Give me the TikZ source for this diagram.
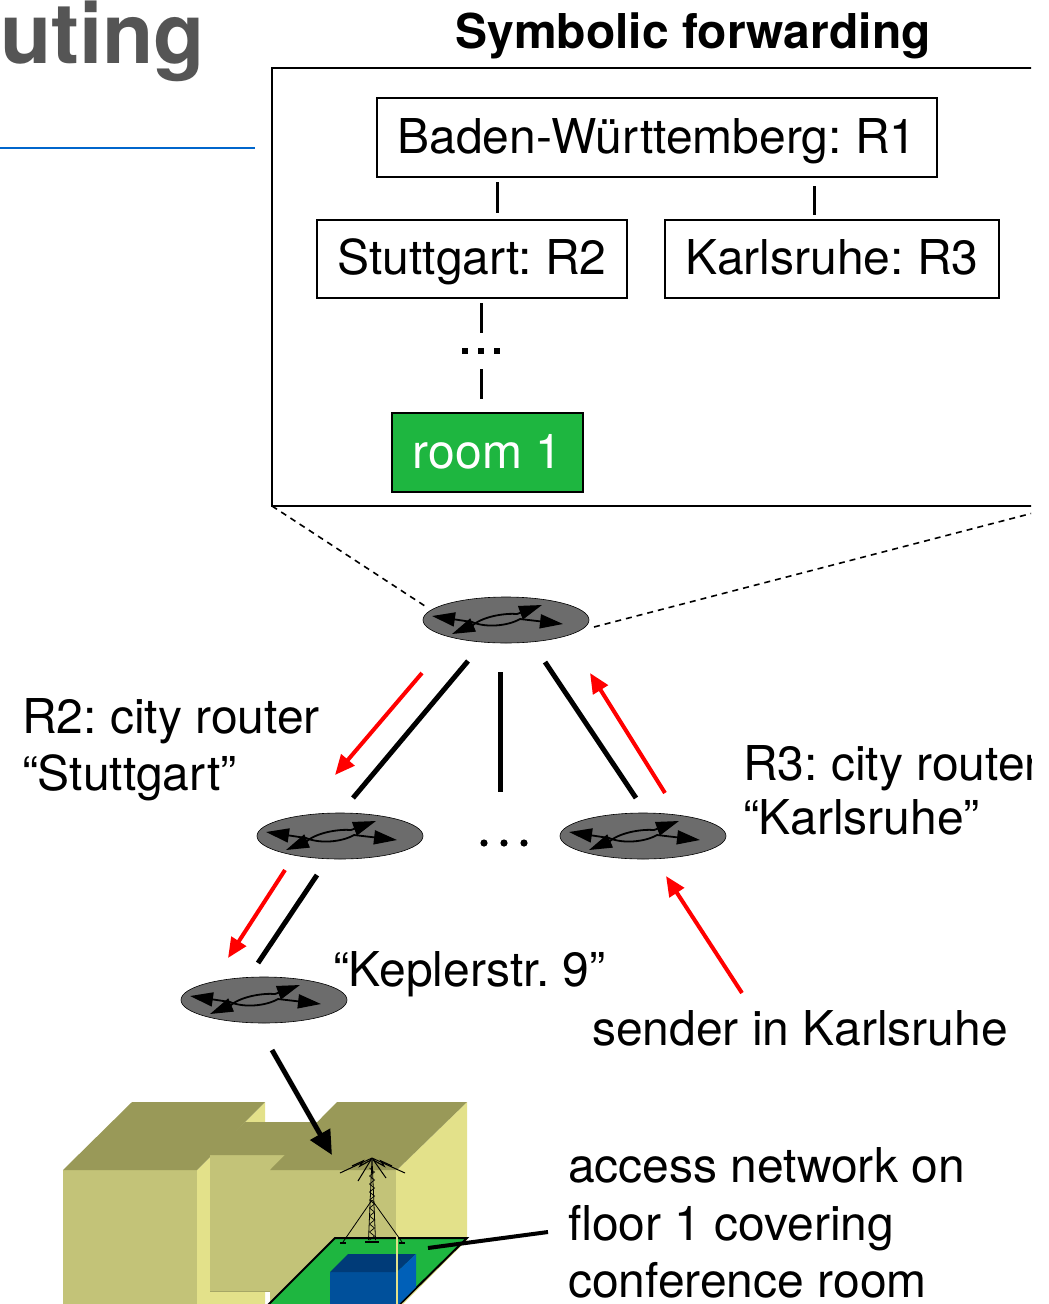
\documentclass[tikz,border=0pt]{standalone}
\usepackage{fontspec}
\setmainfont{TeX Gyre Heros}
\usetikzlibrary{arrows.meta,calc}
\frenchspacing

\definecolor{titlegray}{RGB}{85,85,85}
\definecolor{ruleblue}{RGB}{0,102,204}
\definecolor{roomgreen}{RGB}{30,182,64}
\definecolor{routergray}{RGB}{108,108,108}
\definecolor{roofolive}{RGB}{153,153,88}
\definecolor{wallfront}{RGB}{195,195,120}
\definecolor{wallside}{RGB}{227,225,138}
\definecolor{boxfront}{RGB}{0,80,155}
\definecolor{boxtop}{RGB}{0,59,120}
\definecolor{boxside}{RGB}{0,96,184}

\newcommand\diafont{\fontsize{48}{57.5}\selectfont}

\tikzset{
  router/.pic={
    \filldraw[fill=routergray, draw=black, line width=0.6pt] (0,0) ellipse [x radius=83pt, y radius=23pt];
    \draw[line width=1.8pt, {Triangle[length=23pt,width=14pt]}-{Triangle[length=23pt,width=14pt]}]
      (-74,-4) -- (-34,2) .. controls (-20,8) and (2,6) .. (14,-1) -- (57,4);
    \draw[line width=1.8pt, {Triangle[length=23pt,width=14pt]}-{Triangle[length=23pt,width=14pt]}]
      (-54,14) -- (-33,5) .. controls (-22,-4) and (0,-7) .. (11,-6) -- (36,-15);
  }
}

\begin{document}
\begin{tikzpicture}[x=1pt,y=-1pt,
  every node/.style={inner sep=0pt, outer sep=0pt},
  lbl/.style={font=\diafont, anchor=base west},
  entry/.style={draw, line width=1.5pt, font=\diafont, text height=34.5pt, text depth=3pt},
  tree/.style={line width=3pt},
  link/.style={line width=5pt},
  redarrow/.style={line width=4pt, red, -{Triangle[length=20pt,width=17pt]}},
  blackarrow/.style={line width=5pt, black, -{Triangle[length=24pt,width=22pt]}},
  zoomline/.style={line width=1.6pt, dashed, dash pattern=on 6pt off 5pt},
]
\useasboundingbox (0,0) rectangle (1049,1304);
\clip (0,0) rectangle (1031,1304);

% heading and rule
\node[anchor=base west, font=\fontsize{84}{94}\selectfont\bfseries, text=titlegray] (title) at (0,63) {uting};
\draw[ruleblue, line width=2.5pt] (0,148) -- (255,148);

% symbolic forwarding table
\node[anchor=base, font=\fontsize{48}{57.5}\selectfont\bfseries] (symb) at (693,48) {Symbolic forwarding};
\node[draw, line width=2pt, minimum width=788pt, minimum height=438pt, anchor=north west] (frame) at (272,68) {};

\node[entry, minimum width=560pt, minimum height=79pt] (bw) at (657,137.5) {Baden-Württemberg: R1};
\node[entry, minimum width=310pt, minimum height=78pt] (stg) at (472,259) {Stuttgart: R2};
\node[entry, minimum width=334pt, minimum height=78pt] (kar) at (832,259) {Karlsruhe: R3};
\node[entry, fill=roomgreen, text=white, minimum width=191pt, minimum height=79pt] (room) at (487.5,452.5) {room 1};

\draw[tree] ($(bw.south west)+(120,5)$) -- ($(stg.north west)+(180,-7)$);
\draw[tree] ($(bw.south east)+(-123,9)$) -- ($(kar.north west)+(149,-5)$);
\coordinate (sdots) at (481,351);
\draw[tree] ($(stg.south west)+(164,5)$) -- ($(sdots)+(0,-18)$);
\draw[tree] ($(sdots)+(0,18)$) -- ($(room.north west)+(89,-14)$);
\foreach \dx in {-16,0,16} \fill ($(sdots)+(\dx,0)$) ++(-2.8,-2.8) rectangle ++(5.6,5.6);

% routers
\coordinate (r0) at (506,620);
\coordinate (r2) at (340,836);
\coordinate (r3) at (643,836);
\coordinate (r4) at (264,1000);

\draw[zoomline] (frame.south west) -- ($(r0)+(-78,-12)$);
\draw[zoomline] ($(r0)+(88,7)$) -- (frame.south east);

\pic at (r0) {router};
\pic at (r2) {router};
\pic at (r3) {router};
\pic at (r4) {router};

\coordinate (mdots) at (504,843);
\foreach \dx in {-20,0,20} \fill ($(mdots)+(\dx,0)$) circle [radius=3.6pt];

% links
\draw[link] ($(r0)+(-38,41)$) -- ($(r2)+(13,-38)$);
\draw[link] ($(r0)+(-6,52)$) -- ($(mdots)+(-4,-51)$);
\draw[link] ($(r0)+(39,42)$) -- ($(r3)+(-7,-38)$);
\draw[link] ($(r2)+(-23,39)$) -- ($(r4)+(-6,-37)$);

% labels
\node[lbl] (r2a) at (22,733) {R2: city router};
\node[lbl] (r2b) at (22,790) {“Stuttgart”};
\node[lbl] (r3a) at (743,780) {R3: city router};
\node[lbl] (r3b) at (743,834) {“Karlsruhe”};
\node[lbl] (kep) at (333,986) {“Keplerstr. 9”};
\node[lbl] (sender) at (592,1045) {sender in Karlsruhe};
\node[lbl] (acc1) at (568,1182) {access network on};
\node[lbl] (acc2) at (568,1240) {floor 1 covering};
\node[lbl] (acc3) at (568,1297) {conference room};

% message path
\draw[redarrow] ($(r0)+(-84,53)$) -- ($(r2)+(-5,-61)$);
\draw[redarrow] ($(r3)+(22,-43)$) -- ($(r0)+(84,53)$);
\draw[redarrow] ($(r2)+(-55,34)$) -- ($(r4)+(-36,-42)$);
\draw[redarrow] ($(sender.base west)+(150,-52)$) -- ($(r3)+(23,40)$);

% building: left wing
\fill[wallfront] (63,1170) rectangle (197,1310);
\fill[wallside] (197,1170) -- (265,1102) -- (265,1310) -- (197,1310) -- cycle;
\fill[roofolive] (63,1170) -- (132,1102) -- (265,1102) -- (197,1170) -- cycle;
% middle part
\fill[wallfront] (210,1155) rectangle (290,1291);
\draw[wallfront!85!black, line width=0.8pt] (210,1291) -- (290,1291);
\fill[roofolive] (210,1155) -- (245,1122) -- (330,1122) -- (290,1155) -- cycle;
% right wing
\fill[wallfront] (270,1170) rectangle (397,1310);
\fill[wallside] (397,1170) -- (467,1102) -- (467,1240) -- (397,1310) -- cycle;
\fill[roofolive] (270,1170) -- (337,1102) -- (467,1102) -- (397,1170) -- cycle;

% floor 1 with conference room
\coordinate (floorpt) at (428,1248);
\filldraw[fill=roomgreen, draw=black, line width=2pt, line join=miter] (335,1238) -- (467,1238) -- (398,1306) -- (267,1306) -- cycle;
\fill[boxfront] (330,1272) rectangle (397,1310);
\fill[boxtop] (330,1272) -- (348,1254) -- (416,1254) -- (397,1272) -- cycle;
\fill[boxside] (397,1272) -- (416,1254) -- (416,1287) -- (397,1306) -- cycle;
\draw[wallside, line width=1.2pt] (397,1170) -- (397,1310);

% antenna mast
\coordinate (ant) at (372,1158);
\draw[line width=0.8pt] (ant) -- (368.5,1240) (ant) -- (375.5,1240);
\foreach \y in {1168,1176,...,1232}
  \draw[line width=0.7pt] (369.5,\y) -- (374.5,\y+4) -- (369.5,\y+8);
\draw[line width=2pt] (365,1242) -- (379,1242);
\draw[line width=0.8pt] (372,1200) -- (343,1242) (372,1200) -- (402,1242);
\draw[line width=1.2pt] (340,1243) -- (346,1243) (399,1243) -- (405,1243);
\draw[line width=1pt] (ant) -- (340,1173) (ant) -- (358,1181) (ant) -- (386,1178) (ant) -- (405,1173);
\draw[line width=1.2pt] (352,1166) -- (363,1161) -- (360,1166) -- (371,1160);
\draw[line width=1.2pt] (392,1166) -- (381,1161) -- (384,1166) -- (373,1160);

% pointers into the building
\draw[blackarrow] ($(r4)+(8,50)$) -- (332,1155);
\draw[line width=4pt] ($(acc1.base west)+(-20,50)$) -- (floorpt);
\end{tikzpicture}
\end{document}
